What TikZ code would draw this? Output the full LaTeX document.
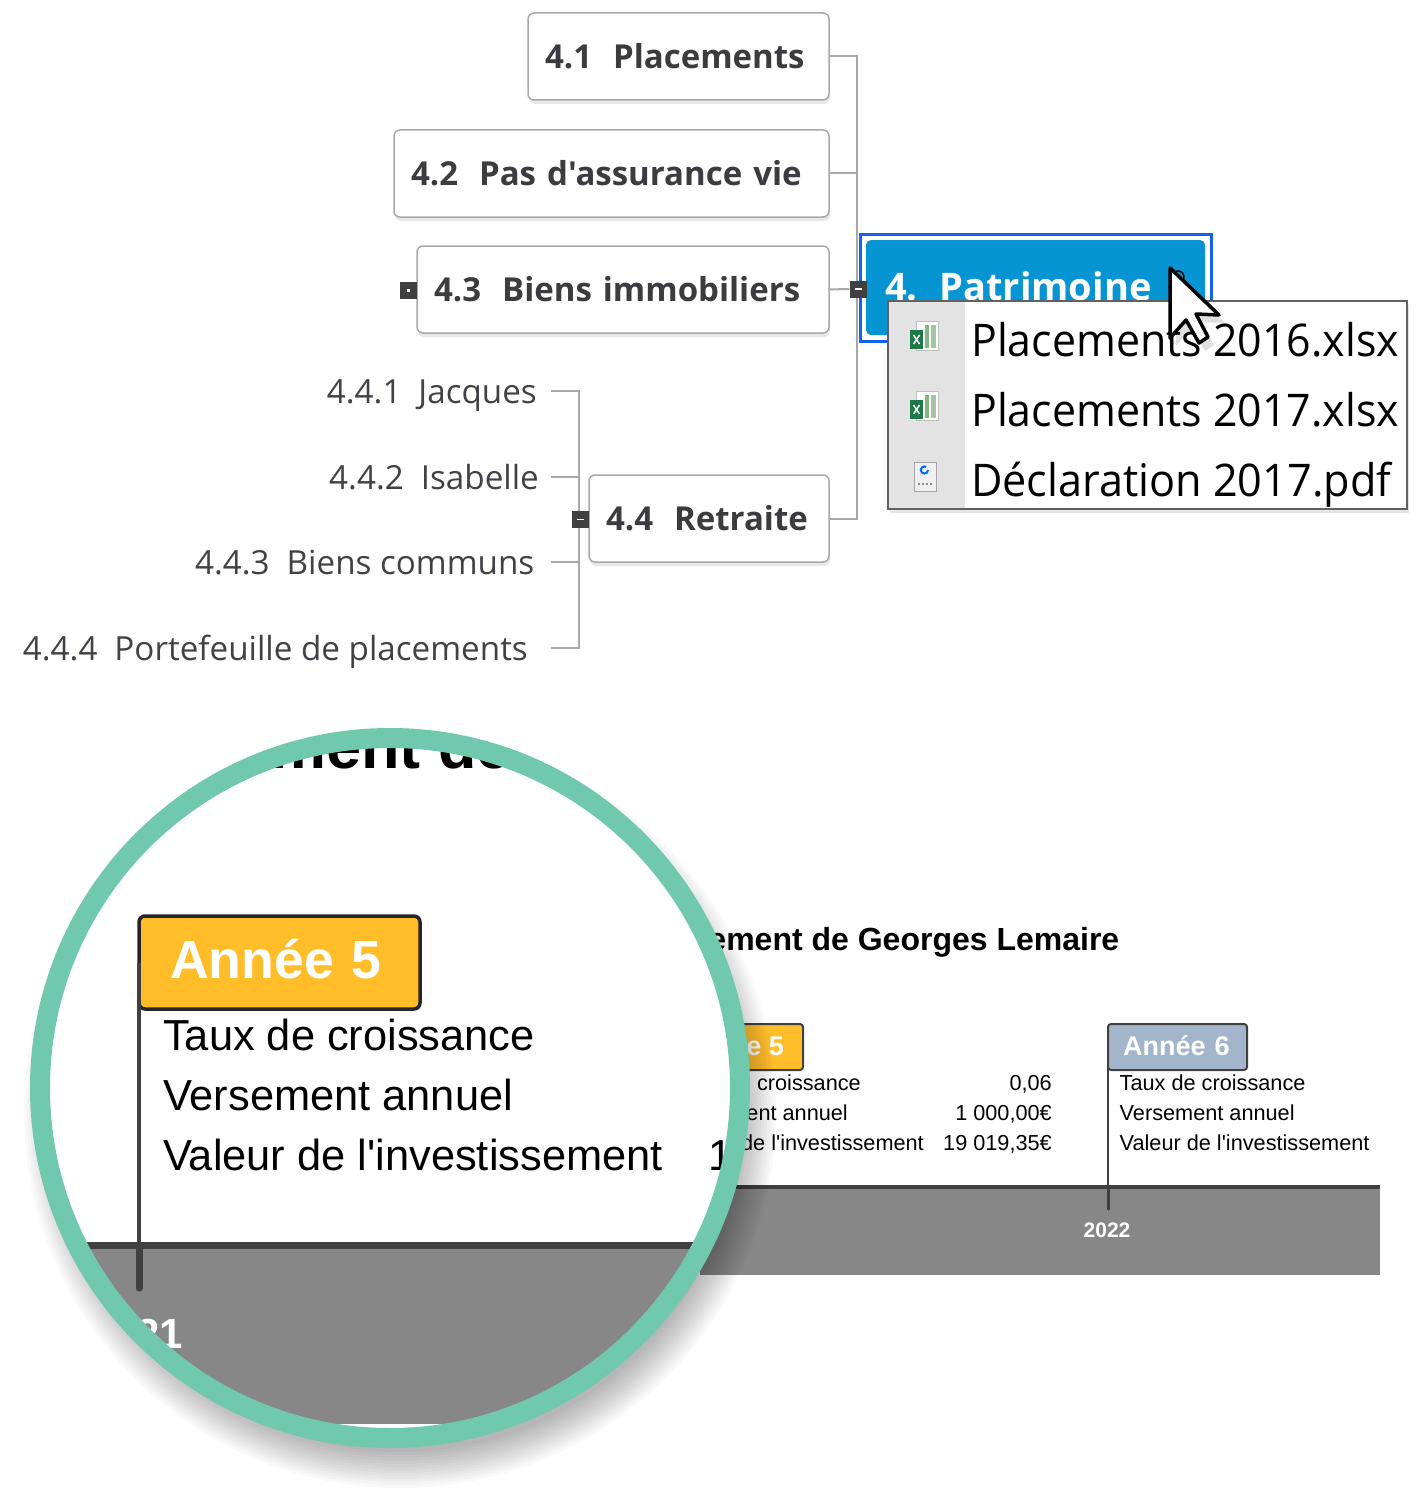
\documentclass[tikz,border=0pt]{standalone}
\usepackage{fontspec}
\newfontfamily\tlfont{Liberation Sans}
\newfontfamily\mmfont{Open Sans}
\usetikzlibrary{shadows,calc}
\definecolor{mmtext}{HTML}{3B3B40}
\definecolor{mmsub}{HTML}{414147}
\definecolor{mmline}{HTML}{A8A8A8}
\definecolor{rootblue}{HTML}{0794D2}
\definecolor{selblue}{HTML}{1460F0}
\definecolor{ring}{HTML}{71C9AD}
\definecolor{band}{HTML}{878787}
\definecolor{dark}{HTML}{404040}
\definecolor{ambre}{HTML}{FFBD2A}
\definecolor{ardoise}{HTML}{A3B5CB}
\definecolor{xlgreen}{HTML}{1D7A47}
\tikzset{
  mapbox/.style={draw=mmline,line width=1.5pt,fill=white,rounded corners=6pt,anchor=north west,outer sep=0pt,
    minimum height=87pt,inner xsep=17pt,inner ysep=0pt,align=left,text height=24pt,text depth=0pt,
    text=mmtext,font=\mmfont\bfseries\fontsize{33}{38}\selectfont,
    drop shadow={shadow xshift=1pt,shadow yshift=-4pt,opacity=.18}},
  sublabel/.style={anchor=east,inner ysep=0pt,text=mmsub,text height=24pt,text depth=0pt,
    font=\mmfont\fontsize{33.2}{38}\selectfont},
  conn/.style={draw=mmline,line width=2pt},
  togglebox/.style={fill=dark,minimum width=17pt,minimum height=17pt,inner sep=0pt,text=white},
  menuitem/.style={anchor=base west,inner sep=0pt,text=black,font=\mmfont\fontsize{45}{50}\selectfont},
  flagA/.style={draw=#1,line width=2pt,rounded corners=3pt,anchor=north west,outer sep=0pt,minimum height=46pt,
    inner xsep=15pt,inner ysep=0pt,text width=109pt,align=left,text height=16pt,text depth=0pt,
    text=white,font=\tlfont\bfseries\fontsize{27}{30}\selectfont},
  rowA/.style={anchor=base west,inner sep=0pt,font=\tlfont\fontsize{21.7}{24}\selectfont},
  rowB/.style={anchor=base west,inner sep=0pt,font=\tlfont\fontsize{43.4}{48}\selectfont},
  valA/.style={anchor=base east,inner sep=0pt,font=\tlfont\fontsize{21.7}{24}\selectfont},
}
\newcommand{\xlicon}[1]{%
  \begin{scope}[shift={(0,#1)}]
    \fill[white,draw=black!25,line width=.8pt] (916,321) rectangle (938,350);
    \fill[green!45!black!50] (925,325) rectangle (929,348);
    \fill[green!35!black!35] (931,325) rectangle (936,348);
    \fill[xlgreen] (910,330) rectangle (923,349);
    \draw[white,line width=1.5pt] (913.5,335) -- (919.5,344) (919.5,335) -- (913.5,344);
  \end{scope}}
\begin{document}
\begin{tikzpicture}[x=1pt,y=-1pt]
\useasboundingbox (0,0) rectangle (1426,1498);
\fill[white] (0,0) rectangle (1426,1498);

% ---------- mind map ----------
\coordinate (trunk) at (857,289);
\coordinate (subtrunk) at (579,518);
\node[mapbox,text width=267pt] (n41) at (528,13) {4.1\hspace{21pt}Placements};
\node[mapbox,text width=401pt] (n42) at (394,130) {4.2\hspace{21pt}Pas d'assurance vie};
\node[mapbox,text width=378pt] (n43) at (417,246) {4.3\hspace{21pt}Biens immobiliers};
\node[mapbox,text width=206pt] (n44) at (589,475) {4.4\hspace{21pt}Retraite};
\node[sublabel,inner xsep=14pt] (s1) at (551,391) {4.4.1\hspace{17pt}Jacques};
\node[sublabel,inner xsep=12pt] (s2) at (551,477) {4.4.2\hspace{17pt}Isabelle};
\node[sublabel,inner xsep=16.5pt] (s3) at (551,562) {4.4.3\hspace{17pt}Biens communs};
\node[sublabel,inner xsep=23pt] (s4) at (551,648) {4.4.4\hspace{17pt}Portefeuille de placements};
\draw[conn] (n41.east) -| (trunk) |- (n44.east);
\draw[conn] (n42.east) -- (n42.east -| trunk);
\draw[conn] (s1.east) -| (subtrunk) |- (s4.east);
\draw[conn] (s2.east) -- (s2.east -| subtrunk);
\draw[conn] (s3.east) -- (s3.east -| subtrunk);
\node[togglebox] (tg43) at (408.5,290.5) {\rule{3pt}{3pt}};
\node[togglebox] (tg44) at (580,519.5) {\rule{7pt}{1.6pt}};

% root
\node[draw=selblue,line width=3pt,fill=white,anchor=north west,outer sep=0pt,minimum width=351pt,minimum height=107pt,inner sep=0pt] (rootsel) at (860,234) {};
\node[fill=rootblue,rounded corners=5pt,anchor=north west,outer sep=0pt,minimum width=339pt,minimum height=95pt,
  inner xsep=19pt,inner ysep=0pt,text width=301pt,align=left,text height=24pt,text depth=0pt,
  text=white,font=\mmfont\bfseries\fontsize{38}{42}\selectfont] (root) at (866,240) {\raisebox{-1pt}{4.\hspace{22pt}Patrimoine}};
\node[togglebox] (tgroot) at (858,289) {\rule{7pt}{1.6pt}};
\draw[conn] (n43.east) -- (tgroot.west);

% popup
\node[draw=black!62,line width=2pt,fill=white,anchor=north west,outer sep=0pt,minimum width=519pt,minimum height=208pt,inner sep=0pt,
  drop shadow={shadow xshift=2pt,shadow yshift=-4pt,opacity=.2}] (popup) at (888,301) {};
\fill[black!11] (889,302) rectangle (965,508);
\xlicon{0}
\xlicon{70}
\fill[black!6] (914,462) rectangle (936,491);
\draw[black!35,line width=1pt] (914,462) rectangle (936,491);
\draw[blue!60!cyan,line width=2pt] (928,470) arc (0:300:3.6);
\draw[black!45,line width=1.4pt,dash pattern=on 2pt off 2pt] (918,484) -- (932,484);
\node[menuitem] (m1) at (971,356) {\scalebox{.953}[1]{Placements 2016.xlsx}};
\node[menuitem] (m2) at (971,426) {\scalebox{.953}[1]{Placements 2017.xlsx}};
\node[menuitem] (m3) at (971,496) {\scalebox{.96}[1]{Déclaration 2017.pdf}};

% cursor
\fill[black,opacity=.12] (1176,276) -- (1176,346) -- (1192,328) -- (1205,351) -- (1214,345) -- (1202,322) -- (1225,323) -- cycle;
\draw[black,line width=1.5pt] (1178,277) circle[radius=6pt];
\draw[black,fill=white,line width=3.5pt,line join=round] (1170,268) -- (1170,338) -- (1186,320) -- (1199,343) -- (1208,337) -- (1196,314) -- (1219,315) -- cycle;

% ---------- time line, real size ----------
\fill[band] (700,1187) rectangle (1380,1275);
\draw[dark,line width=3.5pt] (700,1187) -- (1380,1187);
\node[anchor=base east,inner sep=0pt,font=\tlfont\bfseries\fontsize{32}{36}\selectfont] (title) at (1119.5,950) {ement de Georges Lemaire};
\fill[ambre] (740,1025) rectangle (802,1069);
\node[flagA=dark,fill=ardoise,minimum width=139pt] (flag6) at (1108,1024) {Année 6};
\coordinate (tick6) at (1108,1187);
\coordinate (tickend) at (1108,1209);
\draw[dark,line width=2pt] (flag6.west) -- (tick6);
\draw[dark,line width=3pt,line cap=round] (tick6) -- (tickend);
\node[inner sep=0pt,text=white,font=\tlfont\bfseries\fontsize{21}{24}\selectfont] (y2022) at (1107,1230) {2022};
\node[rowA] (r61) at (1119.5,1090) {Taux de croissance};
\node[rowA] (r62) at (1119.5,1120) {Versement annuel};
\node[rowA] (r63) at (1119.5,1150) {Valeur de l'investissement};
\draw[dark,line width=2pt] (740,1024) -- (800,1024) arc (-90:0:3) -- (803,1067) arc (0:90:3) -- (740,1070);
\node[anchor=base east,inner sep=0pt,text=white,font=\tlfont\bfseries\fontsize{27}{30}\selectfont] (flag5) at (784,1055) {e 5};
\node[valA] (r51) at (861,1090) {croissance};
\node[valA] (r52) at (848,1120) {ent annuel};
\node[valA] (r53) at (924,1150) {de l'investissement};
\node[valA] (v1) at (1052,1090) {0,06};
\node[valA] (v2) at (1052,1120) {1 000,00€};
\node[valA] (v3) at (1052,1150) {19 019,35€};

% ---------- magnifier ----------
\coordinate (lens) at (390,1088);
\foreach \r in {340,343,...,376}{\fill[black,opacity=.022] (400,1112) circle[radius=\r pt];}
\fill[white] (lens) circle[radius=352pt];
\begin{scope}
  \clip (lens) circle[radius=342pt];
  \node[anchor=base east,inner sep=0pt,font=\tlfont\bfseries\fontsize{63}{70}\selectfont] (titleB) at (512,768) {ment de};
  \fill[band] (0,1245) rectangle (800,1424);
  \draw[dark,line width=7pt] (0,1245) -- (800,1245);
  \node[draw=black!85,line width=3.5pt,fill=ambre,rounded corners=6pt,anchor=north west,outer sep=0pt,minimum width=281pt,minimum height=93pt,
    inner xsep=31pt,inner ysep=0pt,text width=219pt,align=left,text height=31pt,text depth=0pt,
    text=white,font=\tlfont\bfseries\fontsize{53.6}{58}\selectfont] (flagB) at (139,916) {Année 5};
  \coordinate (tickB) at (139,1245);
  \coordinate (tickBend) at (139,1288);
  \draw[dark,line width=4pt] (flagB.west) -- (tickB);
  \draw[dark,line width=7pt,line cap=round] (tickB) -- (tickBend);
  \node[rowB] (q1) at (163,1050) {Taux de croissance};
  \node[rowB] (q2) at (163,1110) {Versement annuel};
  \node[rowB] (q3) at (163,1170) {Valeur de l'investissement};
  \node[rowB] (q4) at (708,1170) {1};
  \node[anchor=base east,inner sep=0pt,text=white,font=\tlfont\bfseries\fontsize{42}{48}\selectfont] (y21) at (183,1348) {21};
\end{scope}
\draw[ring,line width=20pt] (lens) circle[radius=350pt];
\end{tikzpicture}
\end{document}
